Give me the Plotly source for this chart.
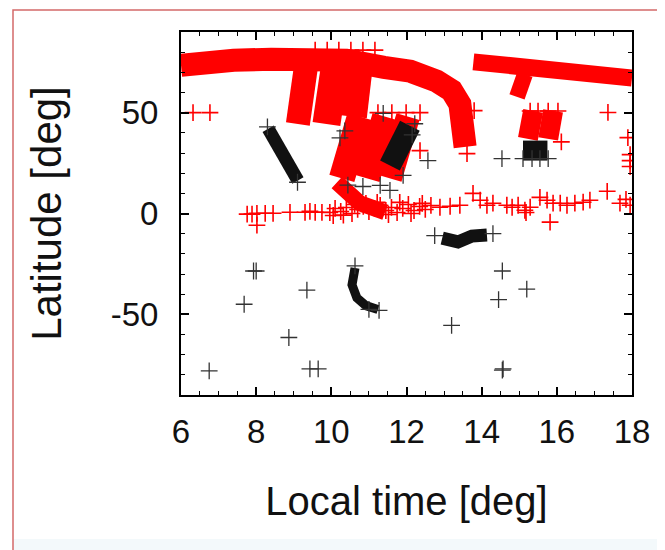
import plotly.graph_objects as go

# ---------------- data ----------------
x_tick_vals = [6, 8, 10, 12, 14, 16, 18]
x_tick_labels = ["6", "8", "10", "12", "14", "16", "18"]
y_tick_vals = [-50, 0, 50]
y_tick_labels = ["-50", "0", "50"]

# red dense tracks (centre lines of the solid bands)
red_top_x = [6.0, 6.6, 7.4, 8.4, 9.4, 10.4, 11.4, 12.1, 12.8, 13.2, 13.42, 13.53, 13.56]
red_top_y = [73.5, 75.2, 76.0, 76.5, 76.5, 76.0, 72.5, 70.6, 65.7, 61.0, 54.3, 43.7, 33.0]

red_b1_x = [9.33, 9.11]
red_b1_y = [73.5, 44.4]
red_b2_x = [10.10, 9.87]
red_b2_y = [73.5, 44.4]
red_b3_x = [10.76, 10.60]
red_b3_y = [73.5, 48.0]

red_c1_x = [10.76, 10.28]
red_c1_y = [48.0, 17.4]
red_c2_x = [11.43, 10.95]
red_c2_y = [48.0, 17.4]
red_c3_x = [12.04, 11.56]
red_c3_y = [48.0, 17.4]

red_e_x = [10.15, 10.76, 11.43]
red_e_y = [15.4, 5.1, 0.6]

red_right_x = [13.78, 14.2, 14.7, 15.74, 16.62, 17.15, 18.0]
red_right_y = [75.2, 74.4, 73.5, 72.0, 71.5, 70.1, 67.2]

red_hook_x = [15.15, 14.94]
red_hook_y = [69.0, 57.8]

red_g1_x = [15.37, 15.23]
red_g1_y = [50.9, 37.0]
red_g2_x = [15.90, 15.77]
red_g2_y = [50.9, 37.0]

# red single crosses
red_pts_x = [6.32, 6.77, 17.36, 12.36, 13.80, 13.61, 17.89, 17.95, 17.95, 17.95,
             9.57, 9.89, 10.20, 10.52, 10.84, 11.16,
             11.24, 11.61, 11.99, 12.36,
             15.29, 15.50, 15.77, 16.03, 16.12,
             7.76, 7.89, 8.02, 8.02, 8.24, 8.45, 8.90, 9.30, 9.43, 9.57, 9.75,
             9.96, 10.10, 10.25, 10.40, 10.55, 10.70, 10.85, 11.00, 11.15, 11.30,
             11.45, 11.60, 11.75, 11.90, 12.05, 12.20, 12.35, 12.50, 12.65,
             10.05, 10.32, 10.62, 10.92, 11.22, 11.52, 11.82, 12.12, 12.42,
             12.89, 13.16, 13.42, 13.77, 13.96, 14.14, 14.30, 14.67, 14.81, 14.97,
             15.15, 15.18, 15.29, 15.55, 15.74, 15.90, 16.09, 16.27, 16.48, 16.70,
             16.88, 17.34, 17.68, 17.84, 17.95, 15.82]
red_pts_y = [50.0, 50.0, 50.1, 31.2, 51.0, 29.7, 37.6, 29.2, 26.2, 23.3,
             81.0, 81.0, 81.0, 81.0, 81.0, 81.0,
             50.0, 50.0, 50.0, 50.0,
             50.8, 50.8, 50.8, 50.8, 35.5,
             -0.3, -0.3, 0.1, -5.8, 0.1, 0.1, 0.6, 0.6, 1.1, 0.6, 0.6,
             0.5, 2.5, 1.0, 3.0, 0.0, 2.0, 3.5, 1.0, 2.5, 4.0,
             1.5, 3.0, 0.5, 2.5, 4.5, 1.5, 3.5, 2.0, 4.0,
             -1.0, -0.8, 4.5, 5.0, 5.5, -0.5, 5.5, 0.0, 5.0,
             3.1, 3.6, 4.1, 10.0, 6.6, 4.1, 5.1, 4.1, 3.1, 4.1,
             1.6, 0.5, 3.1, 8.0, 6.6, 5.1, 5.1, 4.1, 5.1, 5.6,
             6.6, 11.0, 5.1, 7.0, 4.1, -4.3]

# black dense tracks
blk_k_x = [8.32, 8.71, 9.11]
blk_k_y = [42.0, 29.7, 16.4]
blk_c_x = [12.09, 11.56]
blk_c_y = [43.5, 23.8]
blk_h_x = [15.10, 15.75]
blk_h_y = [31.2, 31.2]
blk_l_x = [12.95, 13.37, 13.74, 14.14]
blk_l_y = [-12.2, -14.1, -11.2, -10.7]
blk_m_x = [10.63, 10.55, 10.68, 10.92, 11.24]
blk_m_y = [-27.0, -35.4, -41.8, -45.7, -47.6]

# black single crosses
blk_pts_x = [7.93, 8.00, 7.68, 9.35, 8.87, 6.75, 9.43, 9.65,
             14.55, 15.20, 14.45, 13.20, 14.55, 14.57,
             12.57, 14.54, 10.23, 11.38, 10.36,
             10.44, 10.84, 11.30, 11.56, 11.91,
             15.10, 15.34, 15.55, 15.77,
             12.75, 14.30, 10.63, 11.00, 11.27,
             8.30, 9.10, 12.22, 12.15]
blk_pts_y = [-28.5, -28.5, -45.0, -38.0, -61.5, -78.0, -77.0, -77.0,
             -28.5, -37.5, -42.7, -55.5, -77.7, -77.0,
             26.2, 27.2, 37.5, 49.6, 41.0,
             14.1, 13.4, 13.9, 11.5, 18.9,
             27.2, 27.2, 27.2, 27.2,
             -11.0, -10.0, -26.0, -47.5, -48.0,
             43.0, 15.5, 44.5, 39.0]

# ---------------- figure ----------------
RED = "#ff0000"
BLK = "#111111"
BLK_PT = "#333333"

fig = go.Figure()


def band(xs, ys, color, width):
    fig.add_trace(go.Scatter(x=xs, y=ys, mode="lines",
                             line=dict(color=color, width=width),
                             hoverinfo="skip", showlegend=False))


band(red_top_x, red_top_y, RED, 23)
band(red_b1_x, red_b1_y, RED, 24)
band(red_b2_x, red_b2_y, RED, 28)
band(red_b3_x, red_b3_y, RED, 26)
band(red_c1_x, red_c1_y, RED, 26)
band(red_c2_x, red_c2_y, RED, 26)
band(red_c3_x, red_c3_y, RED, 24)
band(red_e_x, red_e_y, RED, 16)
band(red_right_x, red_right_y, RED, 17)
band(red_hook_x, red_hook_y, RED, 16)
band(red_g1_x, red_g1_y, RED, 20)
band(red_g2_x, red_g2_y, RED, 20)

fig.add_trace(go.Scatter(x=red_pts_x, y=red_pts_y, mode="markers",
                         marker=dict(symbol="cross-thin-open", size=12, color=RED,
                                     line=dict(color=RED, width=1.6)),
                         hoverinfo="skip", showlegend=False))

band(blk_k_x, blk_k_y, BLK, 13)
band(blk_c_x, blk_c_y, BLK, 22)
band(blk_h_x, blk_h_y, BLK, 20)
band(blk_l_x, blk_l_y, BLK, 13)
band(blk_m_x, blk_m_y, BLK, 9)

fig.add_trace(go.Scatter(x=blk_pts_x, y=blk_pts_y, mode="markers",
                         marker=dict(symbol="cross-thin-open", size=12, color=BLK_PT,
                                     line=dict(color=BLK_PT, width=1.3)),
                         hoverinfo="skip", showlegend=False))

FONT = "Liberation Sans, Arial, Helvetica, sans-serif"

axis_common = dict(
    showgrid=False, zeroline=False, showline=True, linecolor="black",
    linewidth=2, mirror="ticks", ticks="inside", ticklen=8, tickwidth=1.5,
    tickcolor="black", tickfont=dict(family=FONT, size=33, color="#111111"),
)

# the page body adds an 8 px offset, so the figure is 8 px smaller than the window
FIG_W, FIG_H = 657, 542
ML, MR, MT, MB = 173, 33, 24, 155

fig.update_layout(
    width=FIG_W, height=FIG_H,
    margin=dict(l=ML, r=MR, t=MT, b=MB),
    paper_bgcolor="white", plot_bgcolor="white",
    font=dict(family=FONT, color="#111111"),
    xaxis=dict(range=[6, 18], tickmode="array", tickvals=x_tick_vals,
               ticktext=x_tick_labels, ticklabelstandoff=6,
               minor=dict(tick0=0, dtick=0.5, ticks="inside", ticklen=4,
                          tickwidth=1.2, tickcolor="black", showgrid=False),
               title=dict(text="Local time [deg]", standoff=38,
                          font=dict(family=FONT, size=40, color="#111111")),
               **axis_common),
    yaxis=dict(range=[-90, 90], tickmode="array", tickvals=y_tick_vals,
               ticktext=y_tick_labels, ticklabelstandoff=14,
               minor=dict(tick0=0, dtick=10, ticks="inside", ticklen=4,
                          tickwidth=1.2, tickcolor="black", showgrid=False),
               title=dict(text="Latitude [deg]", standoff=36,
                          font=dict(family=FONT, size=42, color="#111111")),
               **axis_common),
)

# page decoration: light band at the bottom and the thin red frame round the picture
W_PLOT, H_PLOT = FIG_W - ML - MR, FIG_H - MT - MB


def px_x(p):  # figure pixel -> paper x
    return (p - ML) / W_PLOT


def px_y(p):  # figure pixel -> paper y
    return (FIG_H - MB - p) / H_PLOT


fig.add_shape(type="rect", xref="paper", yref="paper", layer="below",
              x0=px_x(5), x1=px_x(700), y0=px_y(580), y1=px_y(531),
              fillcolor="#f3f9fb", line=dict(width=0))
fig.add_shape(type="rect", xref="paper", yref="paper",
              x0=px_x(5), x1=px_x(700), y0=px_y(580), y1=px_y(2),
              fillcolor="rgba(0,0,0,0)", line=dict(color="#d46a6a", width=1.5))

fig.write_html("out.html")
